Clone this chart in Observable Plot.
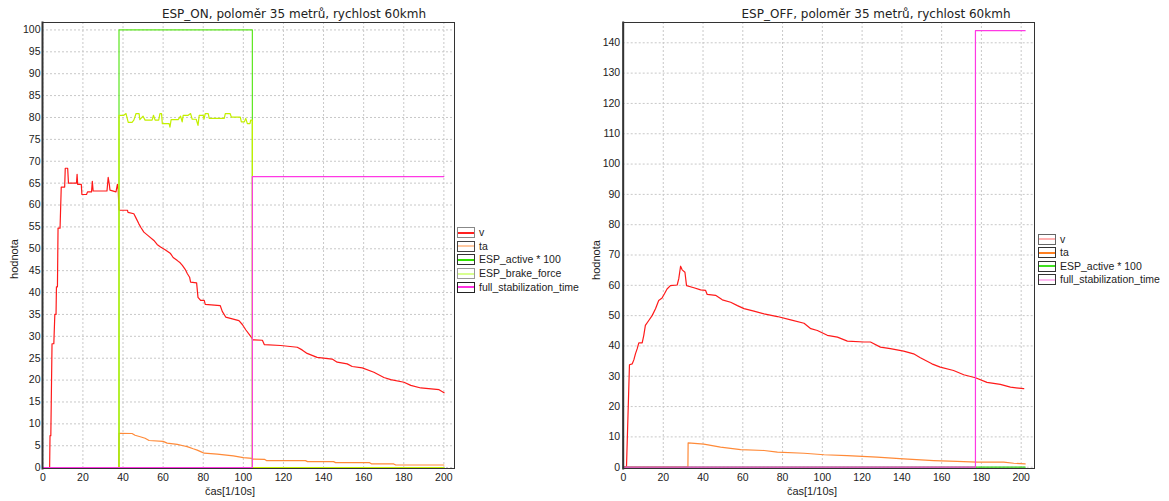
<!DOCTYPE html>
<html>
<head>
<meta charset="utf-8">
<script src="https://cdn.jsdelivr.net/npm/d3@7"></script>
<script src="https://cdn.jsdelivr.net/npm/@observablehq/plot@0.6"></script>
<style>
  html, body { margin: 0; padding: 0; background: #fff; }
  #wrap { position: relative; width: 1169px; height: 501px; overflow: hidden; font-family: "Liberation Sans", Arial, sans-serif; color: #222; }
  .abs { position: absolute; white-space: nowrap; z-index: 2; }
  .title { font-family: "DejaVu Sans", sans-serif; font-size: 12px; line-height: normal; transform: translateX(-50%); }
  .xlab { font-size: 11px; line-height: 11px; transform: translateX(-50%); }
  .ylab { font-size: 11px; line-height: 11px; transform: translate(-50%, -50%) rotate(-90deg); }
  .leg { font-size: 10.5px; line-height: 11px; display: flex; align-items: center; }
  .sw { width: 16px; height: 9px; border: 1px solid #333; background: #fff; position: relative; margin-right: 4px; box-sizing: content-box; }
  .sw i { position: absolute; left: 0; right: 0; top: 3.5px; height: 2px; }
  svg { position: absolute; top: 0; z-index: 1; }
</style>
</head>
<body>
<div id="wrap"></div>
<script>
// ---------- data ----------
const titles = ["ESP_ON, poloměr 35 metrů, rychlost 60kmh", "ESP_OFF, poloměr 35 metrů, rychlost 60kmh"];
const xLabel = "čas[1/10s]";
const yLabel = "hodnota";
const xTicks = [0, 20, 40, 60, 80, 100, 120, 140, 160, 180, 200];
const yTicksLeft = [0,5,10,15,20,25,30,35,40,45,50,55,60,65,70,75,80,85,90,95,100];
const yTicksRight = [0,10,20,30,40,50,60,70,80,90,100,110,120,130,140];

const seriesNamesLeft = ["v", "ta", "ESP_active * 100", "ESP_brake_force", "full_stabilization_time"];
const seriesNamesRight = ["v", "ta", "ESP_active * 100", "full_stabilization_time"];

// ESP_ON chart
const leftV = [[0,0],[3.4,0],[3.6,7.3],[4.0,7.3],[4.6,28.3],[5.5,28.3],[6.0,35],[6.6,35],[6.8,41.3],[7.3,41.3],[7.6,54.7],[8.6,54.7],[9.2,64.1],[10.9,64.1],[11.2,68.4],[12.4,68.4],[12.8,65.0],[16.8,65.0],[17.1,67.0],[17.4,64.7],[19.2,64.7],[19.5,62.4],[21.8,62.4],[22.3,63.0],[24.3,63.0],[24.7,65.4],[25.1,63.2],[32.0,63.2],[32.6,66.3],[33.2,64.6],[33.5,63.4],[36.5,63.0],[37.2,64.7],[37.6,63.5],[38.0,59.0],[38.2,58.8],[42.2,58.8],[42.5,58.3],[45.4,58.0],[46.5,57.0],[47.9,55.7],[49.0,54.8],[50.4,53.8],[52.5,53.0],[55.4,51.9],[57.0,51.0],[58.7,50.4],[61.0,49.8],[63.7,48.9],[65.0,48.0],[67.1,47.3],[68.5,46.8],[69.6,46.2],[71.0,45.3],[72.1,44.3],[73.2,43.5],[73.7,42.4],[76.7,42.2],[77.4,38.9],[78.7,38.2],[80.5,38.2],[81.0,37.3],[88.5,37.0],[89.5,35.7],[91.2,34.4],[94.5,34.0],[97.8,33.6],[99.5,32.7],[101.2,31.5],[103.3,30.2],[104.4,29.5],[104.6,29.2],[109.5,29.1],[110.5,28.1],[118.6,27.9],[126.9,27.5],[129.3,26.9],[131.8,26.1],[136.8,25.2],[144.3,24.8],[146.8,24.1],[151.8,23.7],[154.3,23.1],[159.3,22.8],[165.1,21.8],[170.1,20.6],[173.5,20.1],[180.1,19.5],[183.5,18.8],[188.5,18.2],[197.6,17.8],[200.1,17.1]];
const leftTa = [[0,0],[37.9,0],[38.0,7.85],[44.5,7.8],[46,7.4],[49,7.0],[51,6.7],[53,6.2],[60,6.0],[62,5.6],[67,5.3],[70,5.0],[72,4.8],[75,4.3],[77,4.0],[79,3.6],[80.5,3.3],[87,3.1],[95,2.7],[100,2.3],[104.4,2.1],[104.6,1.95],[110.5,1.9],[111.5,1.6],[131,1.6],[132,1.37],[145,1.37],[146,1.14],[163,1.14],[164,0.84],[175,0.84],[176,0.6],[200,0.6]];
const leftActive = [[0,0],[38,0],[38,100],[104.5,100],[104.5,0],[200,0]];
const leftBrake = [[0,0],[38,0],[38,80.5],[40.4,80.5],[41.5,80.9],[42.6,78.9],[44.5,78.9],[45.4,79.4],[46.5,80.9],[48,80.9],[48.4,79.5],[50,80.3],[51,79.4],[54.5,79.4],[55.2,80.5],[56,79.4],[57.8,79.4],[58.4,80.9],[59.2,80.9],[59.6,78.6],[63,78.6],[63.4,77.8],[64,79.5],[67.5,79.5],[68.7,80.3],[69.5,79.0],[70,80.5],[72.5,80.5],[73.7,80.9],[74.5,79.6],[76.5,79.6],[77.4,78.2],[78,80.5],[80,80.5],[80.4,79.6],[81,80.9],[82.5,80.9],[83,79.8],[90.5,79.8],[91,80.9],[93.4,80.9],[94,80.1],[98.5,80.1],[99,79.0],[100.5,79.0],[101.2,79.8],[102,78.6],[103.3,78.6],[103.7,79.4],[104.5,79.4],[104.5,0],[200,0]];
const leftFull = [[0,0],[104.5,0],[104.5,66.5],[200,66.5]];

// ESP_OFF chart
const rightV = [[0,0],[1.5,0],[3.0,33.8],[4.4,34.1],[5.2,35.4],[6.0,37.4],[6.9,39.1],[7.7,41.0],[9.4,41.0],[10.2,43.5],[11.0,46.8],[12.7,48.4],[14.4,50.0],[16.1,52.3],[17.7,55.0],[19.4,55.8],[20.6,57.2],[21.9,58.8],[23.6,59.9],[27.0,60.1],[27.8,62.2],[28.7,66.3],[29.5,65.1],[30.9,64.3],[31.7,59.9],[35.4,59.2],[38.8,58.5],[41.3,58.3],[42.1,57.0],[46.3,56.7],[49.7,55.2],[53.9,54.4],[57.3,53.3],[60.6,52.3],[65.6,51.5],[70.7,50.6],[77.4,49.7],[84.1,48.6],[90.8,47.5],[94.2,45.7],[97.5,45.1],[102.5,43.5],[107.6,42.9],[112.6,41.6],[121.0,41.3],[124.2,41.3],[129.2,39.6],[134.2,39.1],[140.9,38.3],[145.9,37.4],[149.3,36.1],[155.1,34.1],[159.3,33.0],[166.0,31.9],[171.1,30.5],[177.0,29.5],[182.8,28.0],[189.5,27.3],[194.6,26.4],[201.3,25.9]];
const rightTa = [[0,0],[32.4,0],[32.5,8.0],[40.4,7.6],[48.8,6.6],[58.9,5.8],[70.7,5.5],[77.4,5.0],[90.8,4.6],[100.9,4.1],[112.5,3.8],[127.5,3.3],[140.9,2.75],[156,2.2],[167.7,1.9],[177.8,1.65],[191.2,1.65],[196.3,1.3],[202,1.1]];
const rightActive = [[0,0],[202,0]];
const rightFull = [[0,0],[177,0],[177,144],[202,144]];

// ---------- styles ----------
const colors = { v: "#ff1a1a", ta: "#ff8a38", active: "#5ce61e", brake: "#c4f000", full: "#ff38e4", activeRight: "#33cc11" };
const legendLeft = [
  { line: "#ff2020", border: "#888" },
  { line: "#ffc8a0", border: "#444" },
  { line: "#30e000", border: "#333" },
  { line: "#d8ff90", border: "#999" },
  { line: "#ff30e0", border: "#222" }
];
const legendRight = [
  { line: "#ffb0b0", border: "#666" },
  { line: "#ff8020", border: "#333" },
  { line: "#40e020", border: "#333" },
  { line: "#ffb8f0", border: "#333" }
];

const wrap = document.getElementById("wrap");
const XY = { x: d => d[0], y: d => d[1], strokeWidth: 1.2 };

function chart(opts) {
  const marks = [
    Plot.gridX(xTicks, { stroke: "#c8c8c8", strokeOpacity: 1, strokeDasharray: "2,2" }),
    Plot.gridY(opts.yTicks, { stroke: "#c8c8c8", strokeOpacity: 1, strokeDasharray: "2,2" }),
    Plot.axisX(xTicks, { tickSize: 0, tickPadding: 5, fontSize: 10.5, fill: "#222" }),
    Plot.axisY(opts.yTicks, { tickSize: 0, tickPadding: opts.yPad, fontSize: 10.5, fill: "#222" }),
    ...opts.lines.map(l => Plot.line(l.data, { ...XY, stroke: l.color })),
    Plot.frame({ stroke: "#333", strokeWidth: 1 }),
    Plot.frame({ anchor: "left", stroke: "#333", strokeWidth: 2 })
  ];
  const svg = Plot.plot({
    width: opts.width,
    height: 501,
    marginLeft: opts.ml,
    marginRight: opts.mr,
    marginTop: 22,
    marginBottom: 33,
    style: { fontFamily: "'Liberation Sans', Arial, sans-serif", background: "transparent" },
    x: { domain: opts.xDomain, label: null },
    y: { domain: opts.yDomain, label: null },
    marks
  });
  svg.style.left = opts.left + "px";
  wrap.appendChild(svg);
}

chart({
  left: 0, width: 585, ml: 42, mr: 131,
  xDomain: [-0.15, 205.3], yDomain: [-0.2, 101.7], yTicks: yTicksLeft, yPad: 2,
  lines: [
    { data: leftV, color: colors.v },
    { data: leftTa, color: colors.ta },
    { data: leftActive, color: colors.active },
    { data: leftBrake, color: colors.brake },
    { data: leftFull, color: colors.full }
  ]
});
chart({
  left: 585, width: 584, ml: 37.7, mr: 135,
  xDomain: [-0.15, 206.7], yDomain: [-0.43, 146.7], yTicks: yTicksRight, yPad: 3,
  lines: [
    { data: rightV, color: colors.v },
    { data: rightTa, color: colors.ta },
    { data: rightActive, color: colors.activeRight },
    { data: rightFull, color: colors.full }
  ]
});

function addText(cls, text, left, top) {
  const d = document.createElement("div");
  d.className = "abs " + cls;
  d.textContent = text;
  d.style.left = left + "px";
  d.style.top = top + "px";
  wrap.appendChild(d);
}
addText("title", titles[0], 294, 7);
addText("title", titles[1], 876, 7);
addText("xlab", xLabel, 230, 486);
addText("xlab", xLabel, 812, 486);
addText("ylab", yLabel, 14, 259);
addText("ylab", yLabel, 596, 260);

function legend(names, styles, left, top, step) {
  names.forEach((n, i) => {
    const row = document.createElement("div");
    row.className = "abs leg";
    row.style.left = left + "px";
    row.style.top = (top + i * step - 5.5) + "px";
    const sw = document.createElement("span");
    sw.className = "sw";
    sw.style.borderColor = styles[i].border;
    const ln = document.createElement("i");
    ln.style.background = styles[i].line;
    sw.appendChild(ln);
    row.appendChild(sw);
    row.appendChild(document.createTextNode(n));
    wrap.appendChild(row);
  });
}
legend(seriesNamesLeft, legendLeft, 457, 232.7, 13.6);
legend(seriesNamesRight, legendRight, 1038, 239, 13.5);
</script>
</body>
</html>
